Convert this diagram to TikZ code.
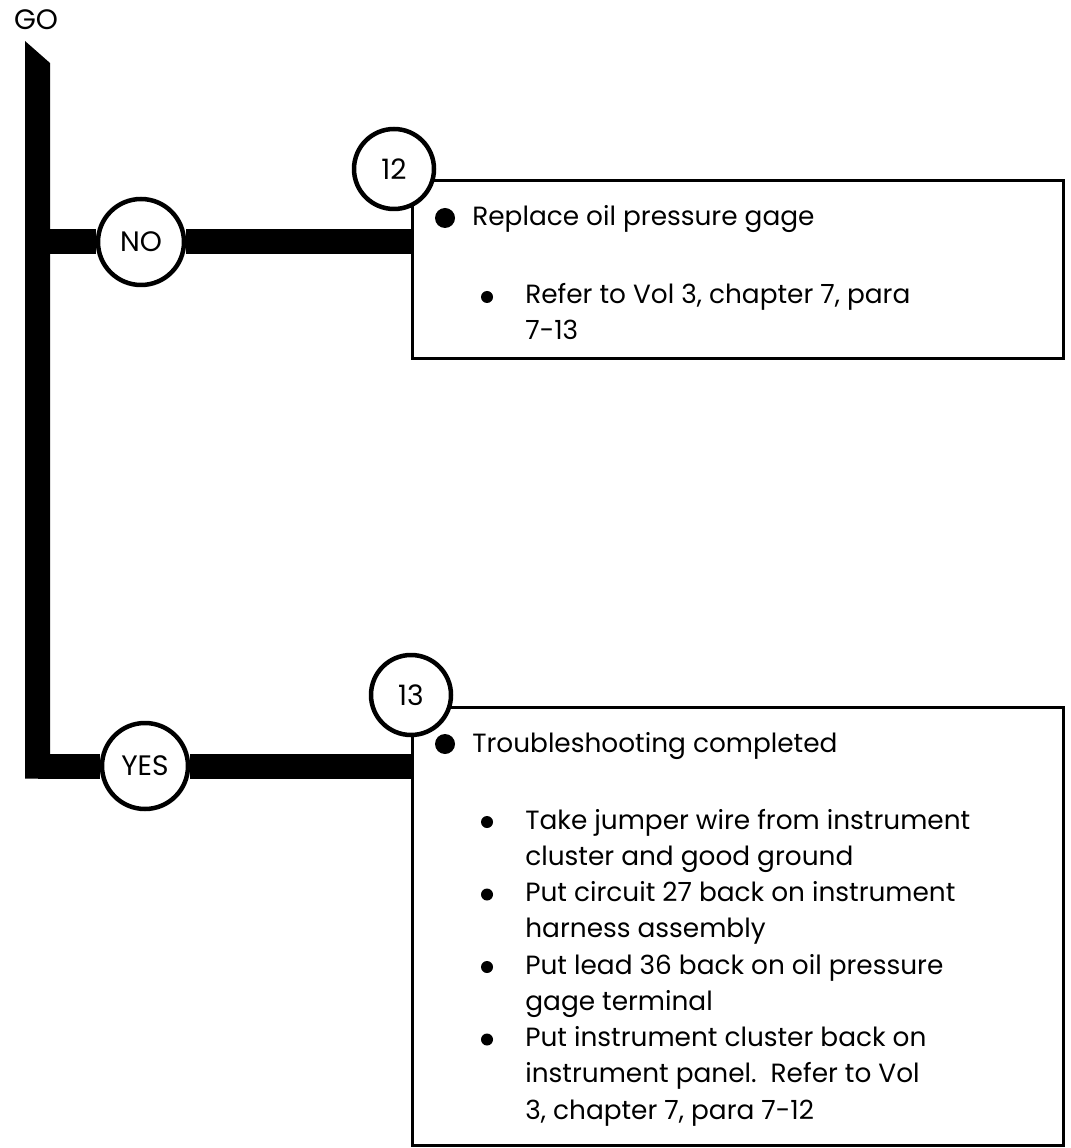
\documentclass[tikz,border=0pt]{standalone}
\usepackage{fontspec}
\setmainfont{Poppins}
\usetikzlibrary{positioning,calc}
\tikzset{
  lbl/.style={font=\fontsize{16}{18}\selectfont, inner sep=0pt},
  tag/.style={draw, circle, line width=0.09cm, fill=white, minimum size=1.72cm, inner sep=0pt, font=\fontsize{16}{18}\selectfont},
  num/.style={draw, circle, line width=0.09cm, fill=white, minimum size=1.6cm, inner sep=0pt, font=\fontsize{16}{18}\selectfont},
  box/.style={draw, rectangle, line width=0.06cm, minimum width=13.02cm, inner sep=0pt},
  bar/.style={line width=0.5cm},
  bigdot/.style={circle, fill, inner sep=0pt, minimum size=0.4cm},
  smalldot/.style={circle, fill, inner sep=0pt, minimum size=0.24cm},
  txt/.style={anchor=base west, inner sep=0pt, font=\fontsize{15}{18}\selectfont},
}
\begin{document}
\begin{tikzpicture}
\useasboundingbox (0,0) rectangle (21.4,-22.96);

\node[lbl] (go) at (0.72,-0.40) {GO};
\coordinate (trunk) at (0.75,0);

% trunk with slanted top
\fill (0.50,-0.82) -- (1.00,-1.26) -- (1.00,-15.57) -- (0.50,-15.57) -- cycle;

% step boxes
\node[box, minimum height=3.56cm] (box1) at (14.75,-5.40) {};
\node[box, minimum height=8.76cm] (box2) at (14.75,-18.52) {};

\node[num] (n12) at (7.88,-3.38) {12};
\node[num] (n13) at (8.22,-13.90) {13};

\node[tag] (no) at (2.82,-4.84) {NO};
\node[tag] (yes) at (2.90,-15.32) {YES};

\draw[bar] (trunk |- no) -- (no.west);
\draw[bar] (no.east) -- (box1.west |- no);
\draw[bar] (trunk |- yes) -- (yes.west);
\draw[bar] (yes.east) -- (box2.west |- yes);

% box 12 text
\node[bigdot] (d12) at (8.90,-4.36) {};
\node[txt] (t12) at (9.44,-4.52) {Replace oil pressure gage};
\node[smalldot] (s12) at (9.74,-5.94) {};
\node[txt] (r12a) at (10.50,-6.08) {Refer to Vol 3, chapter 7, para};
\node[txt] (r12b) at (10.50,-6.80) {7-13};

% box 13 text
\node[bigdot] (d13) at (8.90,-14.88) {};
\node[txt] (t13) at (9.44,-15.04) {Troubleshooting completed};
\node[smalldot] (s13a) at (9.74,-16.44) {};
\node[txt] (r13a) at (10.50,-16.58) {Take jumper wire from instrument};
\node[txt] (r13b) at (10.50,-17.305) {cluster and good ground};
\node[smalldot] (s13b) at (9.74,-17.89) {};
\node[txt] (r13c) at (10.50,-18.03) {Put circuit 27 back on instrument};
\node[txt] (r13d) at (10.50,-18.755) {harness assembly};
\node[smalldot] (s13c) at (9.74,-19.34) {};
\node[txt] (r13e) at (10.50,-19.48) {Put lead 36 back on oil pressure};
\node[txt] (r13f) at (10.50,-20.205) {gage terminal};
\node[smalldot] (s13d) at (9.74,-20.79) {};
\node[txt] (r13g) at (10.50,-20.93) {Put instrument cluster back on};
\node[txt] (r13h) at (10.50,-21.655) {instrument panel.\ \ Refer to Vol};
\node[txt] (r13i) at (10.50,-22.38) {3, chapter 7, para 7-12};

\end{tikzpicture}
\end{document}
